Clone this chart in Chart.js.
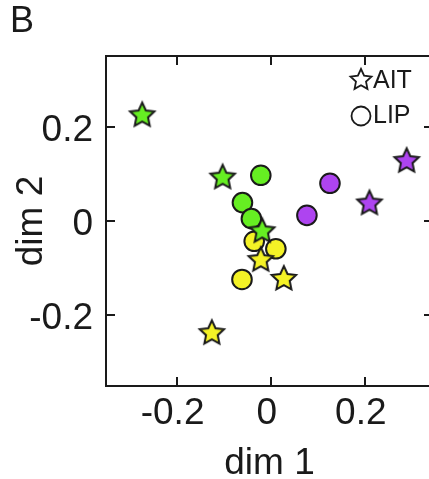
<!DOCTYPE html>
<html>
<head>
<meta charset="utf-8">
<script src="https://cdn.jsdelivr.net/npm/chart.js@4.4.1/dist/chart.umd.min.js"></script>
<style>
  html, body { margin: 0; padding: 0; background: #fff; overflow: hidden; }
  #wrap { position: relative; width: 446px; height: 486px; }
</style>
</head>
<body>
<div id="wrap"><canvas id="mds"></canvas></div>
<script>
const regions = ['AIT', 'LIP'];
const xTicks = [-0.2, 0, 0.2];
const yTicks = [-0.2, 0, 0.2];

// AIT sites (stars): dim 1, dim 2, condition group
const aitDim1 = [-0.273, -0.102, -0.018, -0.021, 0.028, -0.125, 0.210, 0.289];
const aitDim2 = [0.224, 0.092, -0.022, -0.083, -0.123, -0.238, 0.037, 0.127];
const aitGroup = [0, 0, 0, 1, 1, 1, 2, 2];

// LIP sites (circles)
const lipDim1 = [-0.021, -0.060, -0.041, -0.035, 0.011, -0.061, 0.077, 0.126];
const lipDim2 = [0.097, 0.039, 0.005, -0.043, -0.059, -0.124, 0.012, 0.080];
const lipGroup = [0, 0, 0, 1, 1, 1, 2, 2];

const groupColors = ['#66ee22', '#f4f226', '#ae44f0'];
const ink = '#1a1a1a';
const family = '"Liberation Sans", Arial, sans-serif';

// five-point star drawn once per colour, used as pointStyle image
function starImage(fill, r, lw) {
  const size = Math.ceil(2 * r + 2 * lw + 2);
  const c = document.createElement('canvas');
  c.width = c.height = size;
  const g = c.getContext('2d');
  const cx = size / 2, cy = size / 2;
  g.beginPath();
  for (let i = 0; i < 10; i++) {
    const a = -Math.PI / 2 + i * Math.PI / 5;
    const rr = i % 2 ? r * 0.48 : r;
    const px = cx + rr * Math.cos(a), py = cy + rr * Math.sin(a);
    i ? g.lineTo(px, py) : g.moveTo(px, py);
  }
  g.closePath();
  g.fillStyle = fill;
  g.fill();
  g.lineWidth = lw;
  g.lineJoin = 'miter';
  g.strokeStyle = ink;
  g.stroke();
  return c;
}

const stars = groupColors.map(col => starImage(col, 12.8, 2));
const legendStar = starImage('#fff', 11, 1.8);

const toPoints = (xs, ys) => xs.map((x, i) => ({x: x, y: ys[i]}));
const setTicks = list => scale => { scale.ticks = list.map(v => ({value: v})); };
const fmt = v => v === 0 ? '0' : v.toFixed(1);

const regionLegend = {
  id: 'regionLegend',
  afterDraw(chart) {
    const {ctx, chartArea: a} = chart;
    const ix = a.right - 72;
    ctx.save();
    ctx.drawImage(legendStar, ix - legendStar.width / 2, a.top + 24 - legendStar.height / 2);
    ctx.beginPath();
    ctx.arc(ix, a.top + 60, 9.5, 0, 2 * Math.PI);
    ctx.fillStyle = '#fff';
    ctx.fill();
    ctx.lineWidth = 1.8;
    ctx.strokeStyle = ink;
    ctx.stroke();
    ctx.font = '25px ' + family;
    ctx.fillStyle = ink;
    ctx.textAlign = 'left';
    ctx.textBaseline = 'middle';
    ctx.fillText(chart.data.datasets[0].label, a.right - 60, a.top + 25.5);
    ctx.fillText(chart.data.datasets[1].label, a.right - 60, a.top + 60.5);
    ctx.restore();
  }
};

const bigFont = {family: family, size: 37};
const grid = {drawOnChartArea: false, drawTicks: true, tickLength: -9, color: ink, lineWidth: 2};
const border = {display: true, color: ink, width: 2};

new Chart(document.getElementById('mds'), {
  type: 'scatter',
  data: {
    datasets: [{
      label: regions[0],
      data: toPoints(aitDim1, aitDim2),
      pointStyle: ctx => stars[aitGroup[ctx.dataIndex]],
      pointRadius: 12
    }, {
      label: regions[1],
      data: toPoints(lipDim1, lipDim2),
      pointStyle: 'circle',
      pointRadius: 9.8,
      pointBorderWidth: 2,
      pointBorderColor: ink,
      pointBackgroundColor: ctx => groupColors[lipGroup[ctx.dataIndex]]
    }]
  },
  options: {
    responsive: true,
    maintainAspectRatio: false,
    animation: false,
    layout: {padding: {left: 10, top: 0, right: 0, bottom: 0}},
    plugins: {
      legend: {display: false},
      tooltip: {enabled: false},
      title: {
        display: true,
        text: 'B',
        align: 'start',
        color: ink,
        font: {family: family, size: 36, weight: 'normal'},
        padding: {top: 0, bottom: 0}
      }
    },
    scales: {
      x: {
        type: 'linear', position: 'bottom', min: -0.35, max: 0.345,
        afterBuildTicks: setTicks(xTicks),
        afterFit: s => { s.height = 100; },
        grid: grid, border: border,
        ticks: {font: bigFont, color: ink, padding: 15, labelOffset: -4, maxRotation: 0, autoSkip: false, callback: fmt},
        title: {display: true, text: 'dim 1', font: bigFont, color: ink, padding: 0}
      },
      x2: {
        type: 'linear', position: 'top', min: -0.35, max: 0.345,
        afterBuildTicks: setTicks(xTicks),
        afterFit: s => { s.height = 12.8; },
        grid: grid, border: border,
        ticks: {display: false}
      },
      y: {
        type: 'linear', position: 'left', min: -0.35, max: 0.35,
        afterBuildTicks: setTicks(yTicks),
        afterFit: s => { s.width = 96; },
        grid: grid, border: border,
        ticks: {font: bigFont, color: ink, padding: 22, labelOffset: 4, autoSkip: false, callback: fmt},
        title: {display: true, text: 'dim 2', font: bigFont, color: ink, padding: 0}
      },
      y2: {
        type: 'linear', position: 'right', min: -0.35, max: 0.35,
        afterBuildTicks: setTicks(yTicks),
        afterFit: s => { s.width = 11.6; },
        grid: grid, border: border,
        ticks: {display: false}
      }
    }
  },
  plugins: [regionLegend]
});
</script>
</body>
</html>
